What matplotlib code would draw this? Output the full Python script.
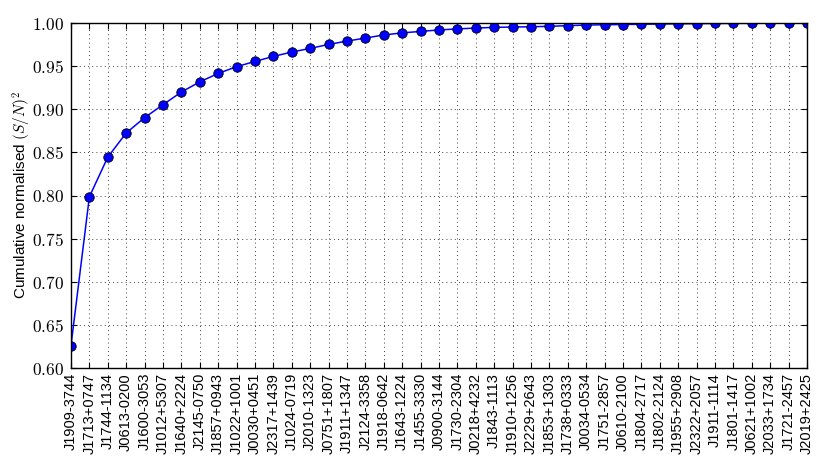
import matplotlib
matplotlib.use("Agg")
import matplotlib.pyplot as plt
from matplotlib.ticker import FuncFormatter

pulsars = ["J1909-3744", "J1713+0747", "J1744-1134", "J0613-0200", "J1600-3053",
           "J1012+5307", "J1640+2224", "J2145-0750", "J1857+0943", "J1022+1001",
           "J0030+0451", "J2317+1439", "J1024-0719", "J2010-1323", "J0751+1807",
           "J1911+1347", "J2124-3358", "J1918-0642", "J1643-1224", "J1455-3330",
           "J0900-3144", "J1730-2304", "J0218+4232", "J1843-1113", "J1910+1256",
           "J2229+2643", "J1853+1303", "J1738+0333", "J0034-0534", "J1751-2857",
           "J0610-2100", "J1804-2717", "J1802-2124", "J1955+2908", "J2322+2057",
           "J1911-1114", "J1801-1417", "J0621+1002", "J2033+1734", "J1721-2457",
           "J2019+2425"]
cum_snr2 = [0.6258, 0.7985, 0.8445, 0.8725, 0.8903, 0.9053, 0.9200, 0.9318, 0.9416, 0.9494,
            0.9555, 0.9613, 0.9664, 0.9706, 0.9752, 0.9791, 0.9826, 0.9862, 0.9886, 0.9903,
            0.9920, 0.9932, 0.9942, 0.9950, 0.9954, 0.9957, 0.9962, 0.9970, 0.9977, 0.9980,
            0.9983, 0.9986, 0.9989, 0.9991, 0.9993, 0.9995, 0.9996, 0.9997, 0.9998, 0.9999,
            1.0000]
yticks = [0.60, 0.65, 0.70, 0.75, 0.80, 0.85, 0.90, 0.95, 1.00]

plt.rcParams['mathtext.fontset'] = 'cm'
plt.rcParams['font.family'] = ['Liberation Sans', 'DejaVu Sans']

fig = plt.figure(figsize=(8.3, 4.61), dpi=100)
ax = fig.add_axes([0.0855, 0.2017, 0.9723 - 0.0855, 0.950 - 0.2017])

x = list(range(len(pulsars)))
ax.plot(x, cum_snr2, '-', color='b', lw=1.1, marker='o', markersize=6.8,
        markerfacecolor='b', markeredgecolor='k', markeredgewidth=0.6)

ax.set_xlim(0, len(pulsars) - 1)
ax.set_ylim(0.60, 1.00)
ax.set_xticks(x)
ax.set_xticklabels(pulsars, rotation=90, fontsize=10.5)
ax.set_yticks(yticks)
ax.yaxis.set_major_formatter(FuncFormatter(lambda v, p: r'$%.2f$' % v))
ax.tick_params(axis='y', labelsize=12.5, pad=5)
ax.tick_params(direction='in', top=True, right=True, length=4, width=0.8, color='k')
ax.grid(True, linestyle=(0, (1, 4)), color='k', linewidth=0.6)
for s in ax.spines.values():
    s.set_linewidth(1.0)
ax.set_ylabel(r'Cumulative normalised $(S/N)^2$', fontsize=11, labelpad=-1)

fig.savefig('out.png', dpi=100)
